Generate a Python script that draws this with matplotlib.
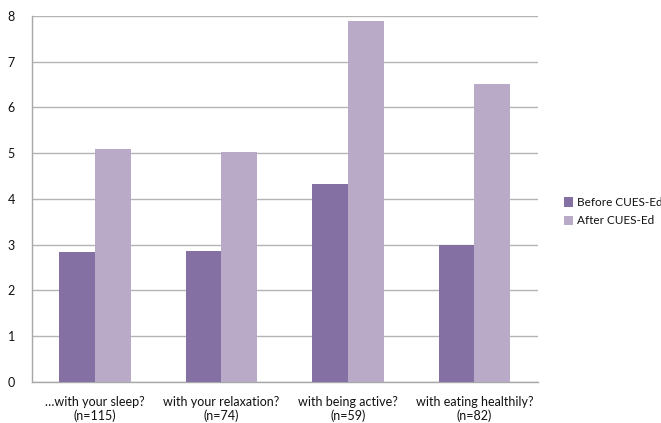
import numpy as np
import matplotlib
matplotlib.use('Agg')
import matplotlib.pyplot as plt

categories = [
    '\u2026with your sleep?\n(n=115)',
    'with your relaxation?\n(n=74)',
    'with being active?\n(n=59)',
    'with eating healthily?\n(n=82)',
]
before = [2.84, 2.86, 4.33, 2.99]
after = [5.09, 5.02, 7.90, 6.51]
series_names = ['Before CUES-Ed', 'After CUES-Ed']

plt.rcParams['font.family'] = ['Lato', 'DejaVu Sans']

fig = plt.figure(figsize=(6.61, 4.23), dpi=100)
ax = fig.add_axes([0.048, 0.0976, 0.7655, 0.8646])

x = np.arange(len(categories))
width = 0.282
ax.bar(x - width / 2, before, width, color='#8470a2', label=series_names[0], zorder=3)
ax.bar(x + width / 2, after, width, color='#b9aac8', label=series_names[1], zorder=3)

ax.set_xlim(-0.5, len(categories) - 0.5)
ax.set_ylim(0, 8)
ax.set_yticks(range(0, 9))
ax.set_xticks(x)
ax.set_xticklabels(categories, fontsize=9)
ax.tick_params(axis='both', length=0, labelsize=9, colors='#111111')
ax.tick_params(axis='y', pad=12)
ax.tick_params(axis='x', pad=10)
ax.grid(axis='y', color='#b4b4b4', linewidth=1, zorder=0)

for side in ['top', 'right']:
    ax.spines[side].set_visible(False)
for side in ['left', 'bottom']:
    ax.spines[side].set_color('#a8a8a8')
    ax.spines[side].set_linewidth(1)

leg = ax.legend(
    loc='center left',
    bbox_to_anchor=(1.03, 0.465),
    frameon=False,
    fontsize=8.5,
    handlelength=0.8,
    handleheight=0.8,
    handletextpad=0.3,
    labelspacing=0.6,
)
for t in leg.get_texts():
    t.set_color('#111111')

fig.savefig('out.png', dpi=100)
